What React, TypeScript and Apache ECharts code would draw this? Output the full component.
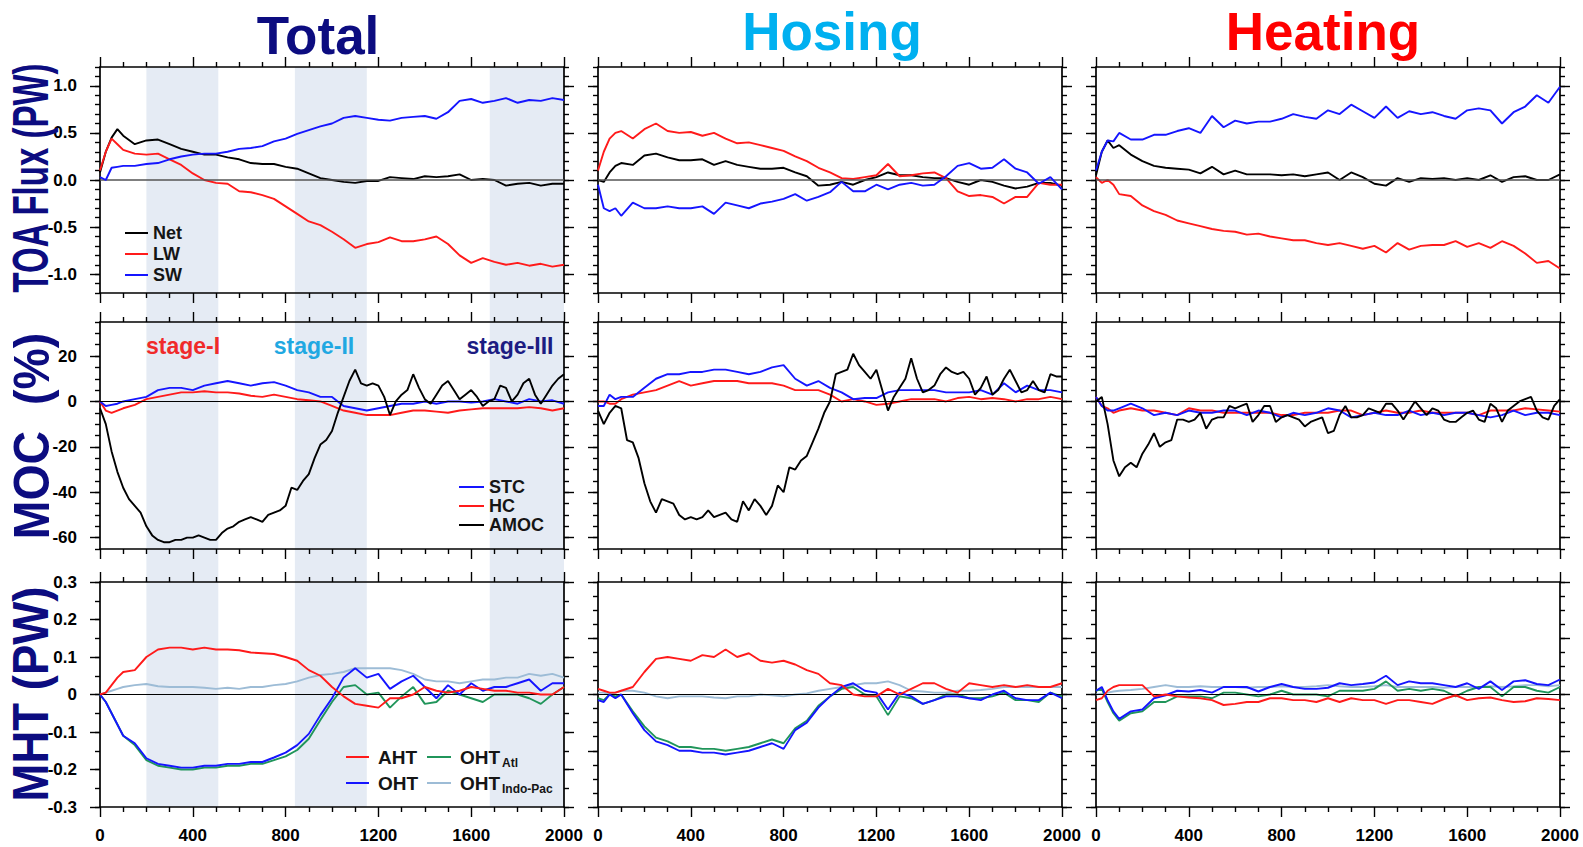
import React, { useEffect, useRef } from "react";
import * as echarts from "echarts";

// ---------- x coordinates (model years) ----------
const YEARS = [0, 25, 50, 75, 100, 150, 200, 250, 300, 350, 400, 450, 500, 550, 600, 650, 700, 750, 800, 850, 900, 950, 1000, 1050, 1100, 1150, 1200, 1250, 1300, 1350, 1400, 1450, 1500, 1550, 1600, 1650, 1700, 1750, 1800, 1850, 1900, 1950, 2000];
const YEARS25 = Array.from({ length: 81 }, (_, i) => i * 25);

// ---------- TOA flux (PW) ----------
const NET1 = [0.08, 0.3, 0.45, 0.54, 0.47, 0.38, 0.42, 0.43, 0.38, 0.33, 0.3, 0.27, 0.27, 0.24, 0.22, 0.18, 0.17, 0.17, 0.14, 0.12, 0.07, 0.02, 0.0, -0.02, -0.03, -0.01, -0.01, 0.03, 0.02, 0.01, 0.04, 0.03, 0.04, 0.06, 0.0, 0.01, 0.0, -0.06, -0.04, -0.03, -0.06, -0.04, -0.04];
const LW1 = [0.1, 0.3, 0.44, 0.38, 0.32, 0.28, 0.27, 0.28, 0.22, 0.16, 0.07, 0.0, -0.03, -0.04, -0.12, -0.13, -0.16, -0.2, -0.28, -0.36, -0.44, -0.48, -0.55, -0.63, -0.72, -0.68, -0.66, -0.61, -0.65, -0.65, -0.63, -0.6, -0.68, -0.8, -0.88, -0.83, -0.87, -0.9, -0.88, -0.91, -0.89, -0.92, -0.9];
const SW1 = [0.03, 0.0, 0.13, 0.14, 0.15, 0.15, 0.17, 0.18, 0.22, 0.25, 0.27, 0.28, 0.28, 0.3, 0.33, 0.34, 0.36, 0.41, 0.44, 0.49, 0.53, 0.57, 0.6, 0.66, 0.68, 0.66, 0.64, 0.63, 0.66, 0.67, 0.68, 0.65, 0.72, 0.84, 0.86, 0.82, 0.84, 0.87, 0.82, 0.85, 0.84, 0.87, 0.85];

const NET2 = [0.0, -0.02, 0.08, 0.15, 0.18, 0.16, 0.26, 0.28, 0.24, 0.21, 0.21, 0.22, 0.16, 0.2, 0.16, 0.14, 0.12, 0.12, 0.13, 0.08, 0.04, -0.06, -0.05, -0.02, -0.05, 0.0, 0.03, 0.08, 0.05, 0.05, 0.03, 0.02, 0.02, -0.02, -0.05, 0.0, -0.02, -0.06, -0.09, -0.07, -0.03, -0.03, -0.06];
const LW2 = [0.1, 0.3, 0.44, 0.5, 0.52, 0.44, 0.54, 0.6, 0.52, 0.5, 0.51, 0.47, 0.5, 0.44, 0.39, 0.4, 0.37, 0.34, 0.31, 0.25, 0.2, 0.13, 0.08, 0.02, 0.01, 0.03, 0.05, 0.17, 0.04, 0.05, 0.07, 0.08, 0.02, -0.12, -0.17, -0.16, -0.18, -0.25, -0.18, -0.18, -0.03, -0.05, -0.05];
const SW2 = [-0.05, -0.3, -0.33, -0.3, -0.38, -0.24, -0.3, -0.3, -0.28, -0.3, -0.3, -0.28, -0.36, -0.24, -0.27, -0.3, -0.25, -0.23, -0.2, -0.15, -0.22, -0.18, -0.13, -0.02, -0.12, -0.12, -0.05, -0.1, -0.05, -0.03, -0.06, -0.05, 0.04, 0.15, 0.18, 0.12, 0.13, 0.22, 0.12, 0.08, -0.04, 0.03, -0.1];

const NET3 = [0.05, 0.3, 0.42, 0.34, 0.37, 0.27, 0.2, 0.15, 0.13, 0.12, 0.11, 0.07, 0.14, 0.06, 0.1, 0.06, 0.06, 0.06, 0.05, 0.06, 0.04, 0.06, 0.08, 0.0, 0.08, 0.03, -0.04, -0.06, 0.02, -0.02, 0.02, 0.01, 0.02, 0.0, 0.02, 0.0, 0.05, -0.02, 0.03, 0.04, 0.0, 0.0, 0.06];
const LW3 = [0.03, -0.03, 0.0, -0.05, -0.15, -0.17, -0.27, -0.33, -0.37, -0.43, -0.46, -0.49, -0.52, -0.54, -0.55, -0.58, -0.57, -0.6, -0.62, -0.64, -0.64, -0.67, -0.69, -0.67, -0.7, -0.73, -0.7, -0.77, -0.67, -0.74, -0.7, -0.69, -0.69, -0.65, -0.71, -0.67, -0.72, -0.65, -0.7, -0.78, -0.88, -0.86, -0.94];
const SW3 = [0.1, 0.3, 0.42, 0.41, 0.5, 0.43, 0.43, 0.48, 0.48, 0.52, 0.55, 0.5, 0.68, 0.56, 0.63, 0.6, 0.62, 0.62, 0.65, 0.7, 0.67, 0.65, 0.74, 0.7, 0.8, 0.73, 0.66, 0.78, 0.66, 0.73, 0.7, 0.72, 0.68, 0.65, 0.74, 0.76, 0.74, 0.6, 0.72, 0.78, 0.9, 0.82, 0.99];

// ---------- MOC (%) ----------
const STC1 = [0, -2, -1.5, -1, 0, 1, 2, 5, 6, 6, 5, 7, 8, 9, 8, 7, 8, 8.5, 7, 5, 4, 2, 2, -2, -3, -4, -3, -2, -1, -1, 0, -1, 0, 0, -0.5, 0, 1, 0, -1, 1, 0, 0.5, -1];
const HC1 = [0, -4, -5, -4, -3, -1.5, 1, 2, 3, 4, 4, 4.5, 4, 4, 3.5, 2.5, 2, 3, 2, 1, 0.5, 0, -2, -4, -5, -6, -6, -6, -5, -4, -4, -4.5, -5, -4, -3.5, -3, -3, -3, -3, -2.5, -3, -4, -3];
const AMOC1 = [-3, -10, -22, -31, -38, -43, -46, -49, -55, -59, -61, -62, -62, -61, -61, -60, -60, -59, -60, -61, -61, -58, -56, -55, -53, -52, -51, -52, -53, -50, -49, -48, -46, -38, -39, -35, -32, -25, -19, -17, -13, -5, 2, 9, 14, 8, 7, 8, 7, 2, -6, 0, 3, 5, 12, 6, 1, -1, 3, 7, 9, 5, 1, 3, 5, 2, -2, 0, 1, 7, 6, 0, 3, 8, 10, 3, -1, 3, 7, 10, 12];

const STC2 = [-2, -2, 3, 1, 2, 2, 6, 10, 12, 12, 13, 13, 14, 14, 13, 12, 13, 15, 16, 10, 7, 9, 6, 4, 1, 1.5, 1.5, 4, 5, 5, 5, 5, 4, 4, 4, 5, 3, 8, 4, 7, 5, 5, 4];
const HC2 = [0, 0, -1, -1, 1, 3, 4, 5, 7, 9, 7, 8, 9, 9, 9, 8, 8, 8, 7, 5, 5, 5, 3, 0, 1, 0, -1.5, -1, 0, 1, 1, 1, 0, 1.5, 2, 1, 1.5, 1, 0, 1, 1, 2, 1];
const AMOC2 = [-4, -10, -5, -2, -3, -17, -18, -25, -36, -44, -49, -43, -44, -45, -50, -52, -51, -52, -51, -48, -51, -50, -49, -52, -53, -44, -48, -43, -46, -50, -46, -37, -40, -29, -30, -26, -24, -18, -12, -5, 0, 12, 13, 14, 21, 16, 13, 10, 14, 5, -4, 2, 6, 10, 19, 10, 4, 5, 7, 12, 15, 13, 12, 13, 10, 3, 6, 11, 3, 5, 10, 14, 9, 4, 5, 9, 5, 4, 12, 11, 11];

const STC3 = [2, -2, -4, -4, -3, -1, -3, -6, -5, -6, -4, -5, -5, -4, -4, -6, -4, -5, -7, -5, -6, -5, -3, -4, -7, -6, -5, -6, -6, -4, -6, -5, -6, -5, -5, -6, -7, -6, -4, -6, -5, -5, -6];
const HC3 = [2, -2, -3, -5, -4, -3, -4, -4, -5, -6, -3, -4, -4, -5, -5, -5, -5, -5, -6, -6, -5, -5, -5, -4, -4, -6, -5, -4, -5, -5, -4, -5, -5, -5, -5, -6, -4, -4, -4, -3, -3.5, -4, -4.5];
const AMOC3 = [0, 2, -10, -26, -33, -29, -27, -29, -23, -19, -14, -20, -18, -17, -8, -8, -9, -8, -5, -12, -8, -7, -7, -2, -3, -2, -1, -9, -6, -2, -2, -9, -7, -6, -7, -8, -11, -9, -8, -7, -14, -13, -6, -2, -7, -7, -6, -3, -4, -5, -1, -1, -4, -8, -4, 0, -3, -6, -3, -4, -8, -9, -9, -7, -5, -4, -8, -9, -1, -3, -9, -4, -2, 0, 1, 2, -4, -7, -8, -2, 1];

// ---------- MHT (PW) ----------
const AHT1 = [0, 0.005, 0.025, 0.045, 0.06, 0.065, 0.1, 0.12, 0.125, 0.125, 0.12, 0.125, 0.12, 0.12, 0.118, 0.112, 0.11, 0.108, 0.1, 0.09, 0.065, 0.05, 0.02, -0.005, -0.025, -0.03, -0.035, -0.01, -0.01, 0.0, 0.02, 0.01, 0.005, 0.01, 0.02, 0.015, 0.01, 0.01, 0.005, 0.005, 0.0, 0.0, 0.02];
const OHT1 = [0, -0.02, -0.05, -0.08, -0.11, -0.13, -0.17, -0.185, -0.19, -0.195, -0.195, -0.19, -0.19, -0.185, -0.185, -0.18, -0.18, -0.168, -0.155, -0.135, -0.105, -0.055, -0.01, 0.045, 0.07, 0.045, 0.055, 0.015, 0.035, 0.05, 0.02, -0.01, 0.025, 0.0, 0.03, 0.01, 0.02, 0.02, 0.03, 0.04, 0.01, 0.03, 0.03];
const OATL1 = [0, -0.02, -0.05, -0.08, -0.11, -0.135, -0.175, -0.19, -0.195, -0.2, -0.2, -0.195, -0.195, -0.19, -0.19, -0.185, -0.185, -0.175, -0.165, -0.148, -0.118, -0.068, -0.02, 0.02, 0.025, 0.0, 0.005, -0.035, -0.005, 0.02, -0.025, -0.02, 0.01, 0.0, -0.01, -0.02, 0.0, 0.0, 0.0, -0.01, -0.025, 0.0, 0.02];
const OIP1 = [0, 0.005, 0.01, 0.015, 0.02, 0.025, 0.028, 0.022, 0.02, 0.02, 0.02, 0.018, 0.015, 0.018, 0.015, 0.02, 0.02, 0.025, 0.028, 0.035, 0.045, 0.052, 0.055, 0.06, 0.07, 0.07, 0.07, 0.07, 0.065, 0.055, 0.04, 0.035, 0.035, 0.03, 0.035, 0.04, 0.04, 0.045, 0.045, 0.055, 0.05, 0.055, 0.045];

const AHT2 = [0.015, 0.01, 0.005, 0.005, 0.01, 0.02, 0.06, 0.095, 0.1, 0.095, 0.09, 0.105, 0.1, 0.12, 0.1, 0.11, 0.09, 0.085, 0.09, 0.08, 0.065, 0.055, 0.03, 0.025, 0.0, -0.005, -0.005, 0.015, 0.0, 0.015, 0.03, 0.03, 0.015, 0.005, 0.03, 0.025, 0.02, 0.025, 0.02, 0.025, 0.02, 0.02, 0.03];
const OHT2 = [-0.015, -0.02, 0.0, -0.01, 0.0, -0.05, -0.095, -0.125, -0.135, -0.15, -0.15, -0.155, -0.155, -0.16, -0.155, -0.15, -0.14, -0.13, -0.145, -0.095, -0.075, -0.035, -0.005, 0.02, 0.03, 0.01, 0.005, -0.04, 0.005, -0.005, -0.025, -0.015, -0.005, -0.005, -0.01, -0.015, 0.0, 0.01, -0.01, -0.015, -0.015, 0.005, -0.01];
const OATL2 = [-0.01, -0.015, 0.0, -0.005, 0.0, -0.045, -0.085, -0.115, -0.125, -0.14, -0.14, -0.145, -0.145, -0.15, -0.145, -0.14, -0.13, -0.12, -0.13, -0.09, -0.07, -0.03, -0.005, 0.015, 0.02, 0.0, -0.005, -0.055, -0.005, -0.01, -0.025, -0.015, 0.0, 0.0, -0.01, -0.01, -0.005, 0.005, -0.015, -0.015, -0.02, 0.005, -0.005];
const OIP2 = [0.005, 0.005, 0.0, 0.005, 0.01, 0.01, 0.005, -0.005, -0.01, -0.005, -0.005, -0.005, -0.008, -0.01, -0.005, -0.005, 0.0, -0.002, -0.005, 0.0, 0.003, 0.01, 0.015, 0.02, 0.025, 0.03, 0.03, 0.035, 0.025, 0.01, 0.008, 0.005, 0.005, 0.01, 0.01, 0.012, 0.015, 0.02, 0.02, 0.02, 0.02, 0.02, 0.02];

const AHT3 = [-0.015, -0.01, 0.01, 0.02, 0.025, 0.025, 0.025, -0.005, 0.0, -0.005, -0.008, -0.01, -0.015, -0.028, -0.025, -0.02, -0.02, -0.01, -0.01, -0.015, -0.015, -0.02, -0.01, -0.02, -0.01, -0.015, -0.015, -0.025, -0.015, -0.015, -0.02, -0.025, -0.012, -0.002, -0.015, -0.01, -0.008, -0.015, -0.02, -0.018, -0.01, -0.012, -0.015];
const OHT3 = [0.01, 0.02, -0.015, -0.045, -0.065, -0.045, -0.04, -0.01, -0.002, 0.01, 0.008, 0.012, 0.005, 0.02, 0.02, 0.02, 0.008, 0.02, 0.028, 0.02, 0.015, 0.015, 0.018, 0.03, 0.025, 0.028, 0.032, 0.05, 0.025, 0.035, 0.03, 0.03, 0.025, 0.02, 0.03, 0.015, 0.035, 0.012, 0.035, 0.038, 0.028, 0.025, 0.04];
const OATL3 = [0.01, 0.015, -0.02, -0.05, -0.07, -0.05, -0.045, -0.02, -0.02, -0.005, -0.005, -0.005, -0.01, 0.005, 0.005, 0.0, -0.005, 0.0, 0.01, 0.0, 0.0, 0.0, -0.005, 0.01, 0.01, 0.01, 0.015, 0.035, 0.01, 0.015, 0.01, 0.015, 0.01, -0.005, 0.01, 0.02, 0.02, -0.005, 0.02, 0.02, 0.01, 0.005, 0.02];
const OIP3 = [0.0, 0.002, 0.005, 0.008, 0.01, 0.012, 0.015, 0.02, 0.025, 0.02, 0.02, 0.022, 0.02, 0.02, 0.02, 0.018, 0.02, 0.02, 0.022, 0.02, 0.02, 0.022, 0.025, 0.022, 0.02, 0.02, 0.022, 0.025, 0.02, 0.02, 0.02, 0.02, 0.018, 0.02, 0.02, 0.02, 0.022, 0.02, 0.022, 0.025, 0.025, 0.022, 0.025];

// ---------- ticks, labels, stages ----------
const X_LABEL_STEP = 400;
const TOA_TICKS = [-1, -0.5, 0, 0.5, 1];
const MOC_TICKS = [-60, -40, -20, 0, 20];
const MHT_TICKS_A = [-0.3, -0.2, -0.1, 0, 0.1, 0.2, 0.3];
const MHT_TICKS_B = [-0.3, -0.15, 0, 0.15, 0.3];
const BANDS = [[200, 510], [840, 1150], [1680, 2000]];
const COL_TITLES = ["Total", "Hosing", "Heating"];
const ROW_TITLES = ["TOA Flux (PW)", "MOC  (%)", "MHT (PW)"];
const STAGES = ["stage-I", "stage-II", "stage-III"];

// ---------- styles / layout ----------
const FONT = "'Liberation Sans', Arial, Helvetica, sans-serif";
const BLACK = "#000000";
const RED = "#ff1a1a";
const BLUE = "#1515ff";
const GREEN = "#20955a";
const LBLUE = "#9dbcd6";
const NAVY = "#0c0c80";
const BAND = "#e5ebf4";

const COL_LEFT = [100, 598, 1096];
const PLOT_W = 464;
const ROW_TOP = [67, 322, 582];
const ROW_H = [226, 227, 225];

const TITLE_COLORS = ["#0c0c80", "#00b0f0", "#ff0000"];
const TITLE_X = [318, 832, 1323];
const TITLE_Y = [35, 31, 31];
const ROW_TITLE_Y = [178, 436, 694];
const ROW_TITLE_SCALE = [0.66, 0.93, 0.91];
const STAGE_COLORS = ["#f02a2a", "#20a8e2", "#1c1c82"];
const STAGE_X = [183, 314, 510];

const ROW_AXES = [
  [0, 1, 2].map(() => ({ min: -1.2, max: 1.2, minor: 0.1, majors: TOA_TICKS })),
  [0, 1, 2].map(() => ({ min: -65, max: 35, minor: 5, majors: MOC_TICKS })),
  [
    { min: -0.3, max: 0.3, minor: 0.05, majors: MHT_TICKS_A },
    { min: -0.3, max: 0.3, minor: 0.0375, majors: MHT_TICKS_B },
    { min: -0.3, max: 0.3, minor: 0.0375, majors: MHT_TICKS_B },
  ],
];

type Line = { x: number[]; y: number[]; c: string };
const PANELS: Line[][][] = [
  [
    [{ x: YEARS, y: NET1, c: BLACK }, { x: YEARS, y: LW1, c: RED }, { x: YEARS, y: SW1, c: BLUE }],
    [{ x: YEARS, y: NET2, c: BLACK }, { x: YEARS, y: LW2, c: RED }, { x: YEARS, y: SW2, c: BLUE }],
    [{ x: YEARS, y: NET3, c: BLACK }, { x: YEARS, y: LW3, c: RED }, { x: YEARS, y: SW3, c: BLUE }],
  ],
  [
    [{ x: YEARS, y: HC1, c: RED }, { x: YEARS, y: STC1, c: BLUE }, { x: YEARS25, y: AMOC1, c: BLACK }],
    [{ x: YEARS, y: HC2, c: RED }, { x: YEARS, y: STC2, c: BLUE }, { x: YEARS25, y: AMOC2, c: BLACK }],
    [{ x: YEARS, y: HC3, c: RED }, { x: YEARS, y: STC3, c: BLUE }, { x: YEARS25, y: AMOC3, c: BLACK }],
  ],
  [
    [{ x: YEARS, y: OIP1, c: LBLUE }, { x: YEARS, y: OATL1, c: GREEN }, { x: YEARS, y: OHT1, c: BLUE }, { x: YEARS, y: AHT1, c: RED }],
    [{ x: YEARS, y: OIP2, c: LBLUE }, { x: YEARS, y: OATL2, c: GREEN }, { x: YEARS, y: OHT2, c: BLUE }, { x: YEARS, y: AHT2, c: RED }],
    [{ x: YEARS, y: OIP3, c: LBLUE }, { x: YEARS, y: OATL3, c: GREEN }, { x: YEARS, y: OHT3, c: BLUE }, { x: YEARS, y: AHT3, c: RED }],
  ],
];

function fmt(r: number) {
  return (v: number) => {
    if (Math.abs(v) < 1e-9) return r === 0 ? "0.0" : "0";
    if (r === 1) return String(Math.round(v));
    return v.toFixed(1);
  };
}

function buildOption() {
  const grid: any[] = [];
  const xAxis: any[] = [];
  const yAxis: any[] = [];
  const series: any[] = [];
  const tickStyle = { color: "#000", width: 1.4 };
  const lineStyle = { color: "#000", width: 1.7 };
  for (let r = 0; r < 3; r++) {
    for (let c = 0; c < 3; c++) {
      const g = r * 3 + c;
      grid.push({ left: COL_LEFT[c], top: ROW_TOP[r], width: PLOT_W, height: ROW_H[r] });
      const xBase = {
        gridIndex: g, type: "value", min: 0, max: 2000, interval: X_LABEL_STEP,
        splitLine: { show: false }, minorSplitLine: { show: false },
        axisLine: { show: true, onZero: false, lineStyle },
        axisTick: { show: true, inside: false, length: 10, lineStyle: tickStyle },
        minorTick: { show: true, splitNumber: 4, length: 5, lineStyle: tickStyle },
      };
      xAxis.push({
        ...xBase, position: "bottom",
        axisLabel: {
          show: r === 2, margin: 20, fontSize: 17, fontWeight: "bold", color: "#000", fontFamily: FONT,
          showMinLabel: true, showMaxLabel: true, formatter: (v: number) => String(v),
        },
      });
      xAxis.push({ ...xBase, position: "top", axisLabel: { show: false } });
      const ax = ROW_AXES[r][c];
      const yBase = { gridIndex: g, type: "value", min: ax.min, max: ax.max, interval: ax.minor, splitLine: { show: false }, minorTick: { show: false } };
      for (const side of ["left", "right"]) {
        yAxis.push({
          ...yBase, position: side,
          axisLine: { show: true, onZero: false, lineStyle },
          axisTick: { show: true, inside: false, length: 5, lineStyle: tickStyle },
          axisLabel: { show: false },
        });
        yAxis.push({
          ...yBase, position: side,
          axisLine: { show: false, onZero: false },
          axisTick: { show: true, inside: false, length: 10, lineStyle: tickStyle, customValues: ax.majors },
          axisLabel: {
            show: side === "left" && c === 0, customValues: ax.majors, formatter: fmt(r),
            margin: 23, fontSize: 17, fontWeight: "bold", color: "#000", fontFamily: FONT,
          },
        });
      }
      PANELS[r][c].forEach((ln, k) => {
        const s: any = {
          type: "line", xAxisIndex: g * 2, yAxisIndex: g * 4,
          data: ln.x.map((xv, i) => [xv, ln.y[i]]),
          showSymbol: false, symbol: "none", silent: true,
          lineStyle: { color: ln.c, width: 1.9 }, itemStyle: { color: ln.c },
          z: 3 + k,
        };
        if (k === 0) {
          s.markLine = {
            silent: true, symbol: ["none", "none"], label: { show: false },
            lineStyle: { color: r === 0 ? "#555" : "#000", width: r === 0 ? 1.6 : 1.1, type: "solid" },
            data: [{ yAxis: 0 }],
          };
        }
        series.push(s);
      });
    }
  }
  return { animation: false, backgroundColor: "#fff", grid, xAxis, yAxis, series };
}

function legendItems(items: { label: string; sub?: string; color: string; x1: number; x2: number; tx: number; y: number; fs: number }[]) {
  const out: any[] = [];
  items.forEach((it) => {
    out.push({ type: "line", shape: { x1: it.x1, y1: it.y, x2: it.x2, y2: it.y }, style: { stroke: it.color, lineWidth: 2 }, z: 20 });
    out.push({
      type: "text", x: it.tx, y: it.y, z: 20,
      style: { text: it.label, fill: "#151515", fontSize: it.fs, fontWeight: "bold", fontFamily: FONT, align: "left", verticalAlign: "middle", textAlign: "left", textVerticalAlign: "middle" },
    });
    if (it.sub) {
      out.push({
        type: "text", x: it.tx + 42, y: it.y + 6, z: 20,
        style: { text: it.sub, fill: "#151515", fontSize: 12, fontWeight: "bold", fontFamily: FONT, align: "left", verticalAlign: "middle", textAlign: "left", textVerticalAlign: "middle" },
      });
    }
  });
  return out;
}

function buildGraphics(chart: any) {
  const els: any[] = [];
  const top = chart.convertToPixel({ yAxisIndex: 0 }, ROW_AXES[0][0].max);
  const bottom = chart.convertToPixel({ yAxisIndex: 24 }, ROW_AXES[2][0].min);
  BANDS.forEach(([a, b]) => {
    const x1 = chart.convertToPixel({ xAxisIndex: 0 }, a);
    const x2 = chart.convertToPixel({ xAxisIndex: 0 }, b);
    els.push({ type: "rect", silent: true, z: -10, shape: { x: x1, y: top, width: x2 - x1, height: bottom - top }, style: { fill: BAND } });
  });
  COL_TITLES.forEach((t, i) => {
    els.push({
      type: "text", x: TITLE_X[i], y: TITLE_Y[i], z: 20,
      style: { text: t, fill: TITLE_COLORS[i], fontSize: 53, fontWeight: "bold", fontFamily: FONT, align: "center", verticalAlign: "middle", textAlign: "center", textVerticalAlign: "middle" },
    });
  });
  ROW_TITLES.forEach((t, i) => {
    els.push({
      type: "text", x: 31, y: ROW_TITLE_Y[i], rotation: Math.PI / 2, scaleX: ROW_TITLE_SCALE[i], z: 20,
      style: { text: t, fill: NAVY, fontSize: 50, fontWeight: "bold", fontFamily: FONT, align: "center", verticalAlign: "middle", textAlign: "center", textVerticalAlign: "middle" },
    });
  });
  STAGES.forEach((t, i) => {
    els.push({
      type: "text", x: STAGE_X[i], y: 346, z: 20,
      style: { text: t, fill: STAGE_COLORS[i], fontSize: 23, fontWeight: "bold", fontFamily: FONT, align: "center", verticalAlign: "middle", textAlign: "center", textVerticalAlign: "middle" },
    });
  });
  els.push(...legendItems([
    { label: "Net", color: BLACK, x1: 125, x2: 148, tx: 153, y: 233, fs: 18 },
    { label: "LW", color: RED, x1: 125, x2: 148, tx: 153, y: 254, fs: 18 },
    { label: "SW", color: BLUE, x1: 125, x2: 148, tx: 153, y: 275, fs: 18 },
    { label: "STC", color: BLUE, x1: 459, x2: 484, tx: 489, y: 487, fs: 18 },
    { label: "HC", color: RED, x1: 459, x2: 484, tx: 489, y: 506, fs: 18 },
    { label: "AMOC", color: BLACK, x1: 459, x2: 484, tx: 489, y: 525, fs: 18 },
    { label: "AHT", color: RED, x1: 346, x2: 369, tx: 378, y: 757, fs: 19 },
    { label: "OHT", color: BLUE, x1: 346, x2: 369, tx: 378, y: 783, fs: 19 },
    { label: "OHT", sub: "Atl", color: GREEN, x1: 427, x2: 451, tx: 460, y: 757, fs: 19 },
    { label: "OHT", sub: "Indo-Pac", color: LBLUE, x1: 427, x2: 451, tx: 460, y: 783, fs: 19 },
  ]));
  return els;
}

export default function App() {
  const ref = useRef<HTMLDivElement>(null);
  useEffect(() => {
    if (!ref.current) return;
    const chart = echarts.init(ref.current, null, { renderer: "svg" });
    chart.setOption(buildOption() as any);
    chart.setOption({ graphic: { elements: buildGraphics(chart) } } as any);
    return () => chart.dispose();
  }, []);
  return <div ref={ref} style={{ position: "absolute", left: 0, top: 0, width: 1583, height: 847, background: "#fff" }} />;
}
